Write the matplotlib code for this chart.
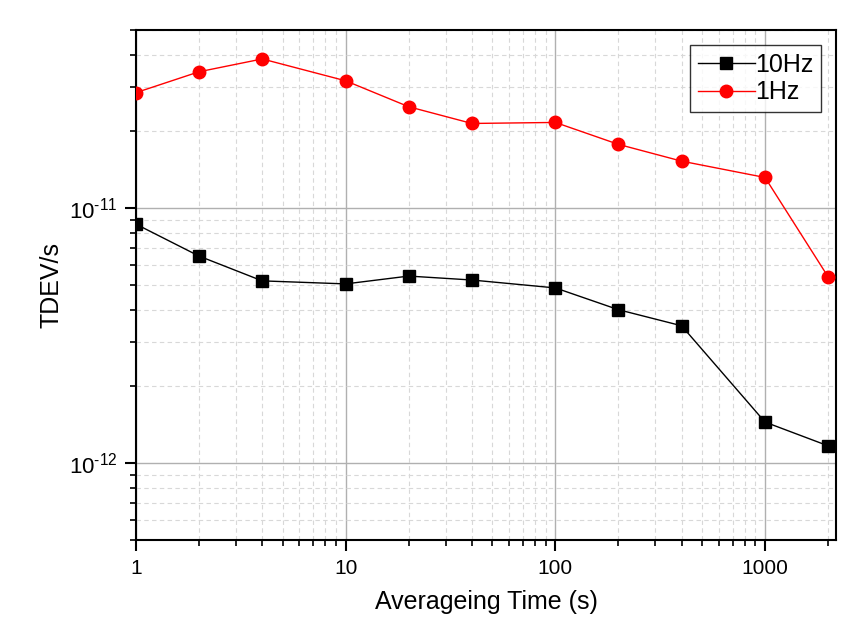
import matplotlib
matplotlib.use("Agg")
import matplotlib.pyplot as plt
from matplotlib.ticker import LogLocator, FixedLocator, FixedFormatter, NullFormatter

plt.rcParams['font.family'] = ['Liberation Sans', 'DejaVu Sans']
plt.rcParams['mathtext.fontset'] = 'custom'
plt.rcParams['mathtext.rm'] = 'Liberation Sans'
plt.rcParams['mathtext.it'] = 'Liberation Sans:italic'
plt.rcParams['axes.unicode_minus'] = False

tau = [1, 2, 4, 10, 20, 40, 100, 200, 400, 1000, 2000]
tdev_10hz = [8.66e-12, 6.49e-12, 5.19e-12, 5.05e-12, 5.42e-12, 5.23e-12,
             4.87e-12, 4.0e-12, 3.46e-12, 1.45e-12, 1.17e-12]
tdev_1hz = [2.84e-11, 3.43e-11, 3.85e-11, 3.16e-11, 2.5e-11, 2.15e-11,
            2.17e-11, 1.78e-11, 1.53e-11, 1.32e-11, 5.38e-12]
x_ticks = [1, 10, 100, 1000]
x_tick_labels = ['1', '10', '100', '1000']
y_ticks = [1e-12, 1e-11]
y_tick_labels = ['$10^{\u2010 12}$', '$10^{\u2010 11}$']

fig = plt.figure(figsize=(8.66, 6.3), dpi=100)
ax = fig.add_axes([136/866, 90/630, 700/866, 510/630])

ax.plot(tau, tdev_10hz, color='black', lw=1, marker='s', ms=8.5,
        markerfacecolor='black', markeredgecolor='black', label='10Hz', zorder=3)
ax.plot(tau, tdev_1hz, color='red', lw=1, marker='o', ms=9,
        markerfacecolor='red', markeredgecolor='red', label='1Hz', zorder=3)

ax.set_xscale('log')
ax.set_yscale('log')
ax.set_xlim(1, 2180)
ax.set_ylim(5e-13, 5e-11)

ax.xaxis.set_major_locator(FixedLocator(x_ticks))
ax.xaxis.set_major_formatter(FixedFormatter(x_tick_labels))
ax.xaxis.set_minor_locator(LogLocator(base=10, subs=range(2, 10), numticks=20))
ax.xaxis.set_minor_formatter(NullFormatter())
ax.yaxis.set_major_locator(FixedLocator(y_ticks))
ax.yaxis.set_major_formatter(FixedFormatter(y_tick_labels))
ax.yaxis.set_minor_locator(LogLocator(base=10, subs=range(2, 10), numticks=20))
ax.yaxis.set_minor_formatter(NullFormatter())

ax.grid(True, which='major', color='#b0b0b0', lw=1, ls='-', zorder=0)
ax.grid(True, which='minor', color='#d8d8d8', lw=0.8, ls=(0, (4, 3)), zorder=0)
ax.set_axisbelow(True)

ax.tick_params(which='major', direction='out', length=8, width=1.5,
               labelsize=15, top=False, right=False, pad=6)
ax.tick_params(axis='y', which='major', labelsize=16, pad=5)
ax.tick_params(which='minor', direction='out', length=4, width=1.2,
               top=False, right=False)
for s in ax.spines.values():
    s.set_linewidth(1.5)

ax.set_xlabel('Averageing Time (s)', fontsize=18, labelpad=8)
ax.set_ylabel('TDEV/s', fontsize=18, labelpad=4)

leg = ax.legend(loc='upper right', fontsize=18, frameon=True, fancybox=False,
                edgecolor='black', borderpad=0.3, handlelength=2.3,
                handletextpad=0.0, labelspacing=0.15, borderaxespad=0.6)
leg.get_frame().set_linewidth(1)

fig.savefig('out.png', dpi=100)
